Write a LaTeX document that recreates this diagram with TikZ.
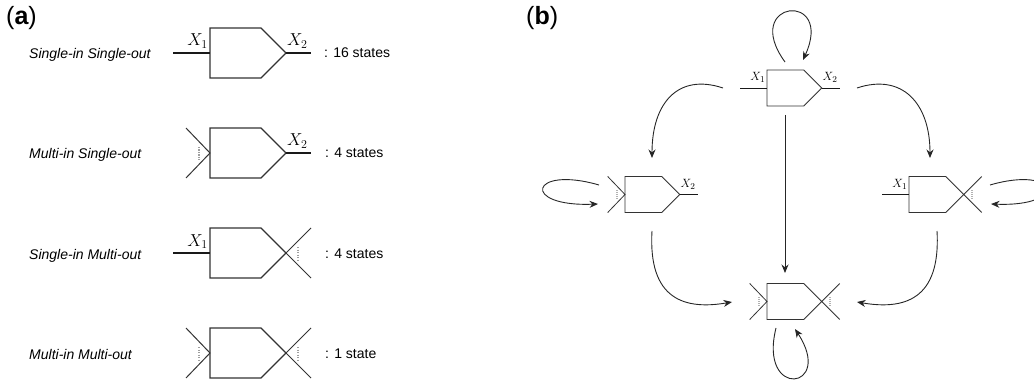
\documentclass[tikz,border=0pt]{standalone}
\usepackage{fontspec}
\setmainfont{Liberation Sans}
\usetikzlibrary{arrows.meta,calc}

% the two kinds of gate input and output, in the gate's own coordinates
\newcommand\gateInS{%
  \draw[wire] (-37,0) -- (0,0);
  \node[xlab, anchor=base east] at (-2,-7) {$X_1$};}
\newcommand\gateInM{%
  \draw[xwire] (-24,-25) -- (0,0) -- (-24,25);
  \draw[ddots] (-11,-6) -- (-11,7);}
\newcommand\gateOutS{%
  \draw[wire] (76,0) -- (101,0);
  \node[xlab, anchor=base west] at (77,-7) {$X_2$};}
\newcommand\gateOutM{%
  \draw[xwire] (76,0) -- (101,-25);
  \draw[xwire] (76,0) -- (101,25);
  \draw[ddots] (88,-6) -- (88,7);}

\tikzset{
  gbody/.style={draw=black!80, line width=1.2pt, line join=miter},
  wire/.style={draw=black!90, line width=2.4pt},
  xwire/.style={draw=black!80, line width=1pt},
  ddots/.style={draw=black!38, line width=2.3pt, dash pattern=on 1.3pt off 1.2pt},
  xlab/.style={inner sep=0pt, font=\fontsize{17}{17}\selectfont},
  rowlab/.style={inner sep=0pt, anchor=base west, font=\fontsize{14}{16}\selectfont\itshape},
  statelab/.style={inner sep=0pt, anchor=base west, font=\fontsize{14}{16}\selectfont},
  panellab/.style={inner sep=0pt, anchor=base west, font=\fontsize{25}{25}\selectfont},
  flow/.style={draw=black!85, line width=0.9pt, -{Stealth[length=8.5pt,width=7pt]}},
  % a gate: body plus an input side (S = single wire, M = multiple wires)
  % and an output side (S or M)
  pics/gate/.style 2 args={code={
    \coordinate (-c) at (0,0);
    \draw[gbody] (0,-25) -- (51,-25) -- (76,0) -- (51,25) -- (0,25) -- cycle;
    \csname gateIn#1\endcsname
    \csname gateOut#2\endcsname
  }},
}

\begin{document}
\begin{tikzpicture}[x=1pt, y=-1pt]
  \useasboundingbox (0,0) rectangle (1034,385);
  \clip (0,0) rectangle (1034,385);

  % ---------- panel (a): the four kinds of gate ----------
  \node[panellab] (pa) at (6,25) {({\bfseries a})};

  \node[rowlab] (r1) at (29,59) {Single-in Single-out};
  \node[rowlab] (r2) at (29,159) {Multi-in Single-out};
  \node[rowlab] (r3) at (29,259) {Single-in Multi-out};
  \node[rowlab] (r4) at (29,359) {Multi-in Multi-out};

  \pic (a1) at (210,53) {gate={S}{S}};
  \pic (a2) at (210,153) {gate={M}{S}};
  \pic (a3) at (210,253) {gate={S}{M}};
  \pic (a4) at (210,353) {gate={M}{M}};

  \node[statelab] (s1) at (324,58) {: 16 states};
  \node[statelab] (s2) at (325,158) {: 4 states};
  \node[statelab] (s3) at (325,258) {: 4 states};
  \node[statelab] (s4) at (325,358) {: 1 state};

  % ---------- panel (b): transitions between gate kinds ----------
  \node[panellab] (pb) at (526,25) {({\bfseries b})};

  \begin{scope}[
      gbody/.style={draw=black!80, line width=0.9pt, line join=miter},
      wire/.style={draw=black!90, line width=0.9pt},
      xwire/.style={draw=black!80, line width=0.8pt},
      ddots/.style={draw=black!30, line width=1.8pt, dash pattern=on 1pt off 1pt},
      xlab/.style={inner sep=0pt, yshift=2pt, font=\fontsize{12.5}{12.5}\selectfont}]
    \pic[scale=0.72] (T) at (767,88) {gate={S}{S}};
    \pic[scale=0.72] (L) at (625,194.5) {gate={M}{S}};
    \pic[scale=0.72] (R) at (909,194.5) {gate={S}{M}};
    \pic[scale=0.72] (B) at (767,301.5) {gate={M}{M}};
  \end{scope}

  % self loops
  \draw[flow] ($(T-c)+(18,-26)$) .. controls +(-45,-62) and +(32,-70) .. ($(T-c)+(36,-28)$);
  \draw[flow] ($(L-c)+(-26,-9.5)$) .. controls +(-69,-20) and +(-78,3) .. ($(L-c)+(-27,9.5)$);
  \draw[flow] ($(R-c)+(81,-9.5)$) .. controls +(69,-20) and +(78,3) .. ($(R-c)+(82,9.5)$);
  \draw[flow] ($(B-c)+(9,26.5)$) .. controls +(-18,72) and +(40,61) .. ($(B-c)+(28,27.5)$);

  % transitions from the top gate
  \draw[flow] ($(T-c)+(-44,0)$) .. controls +(-45,-15) and +(0,-55) .. ($(L-c)+(27,-36.5)$);
  \draw[flow] ($(T-c)+(90,0)$) .. controls +(45,-15) and +(0,-55) .. ($(R-c)+(21,-36.5)$);
  \draw[flow] ($(T-c)+(18,27)$) -- ($(B-c)+(18,-28.5)$);

  % transitions into the bottom gate
  \draw[flow] ($(L-c)+(27,36.5)$) .. controls +(-4,69) and +(-47,8) .. ($(B-c)+(-35,0.5)$);
  \draw[flow] ($(R-c)+(28,36.5)$) .. controls +(4,69) and +(47,8) .. ($(B-c)+(90,0.5)$);
\end{tikzpicture}
\end{document}
